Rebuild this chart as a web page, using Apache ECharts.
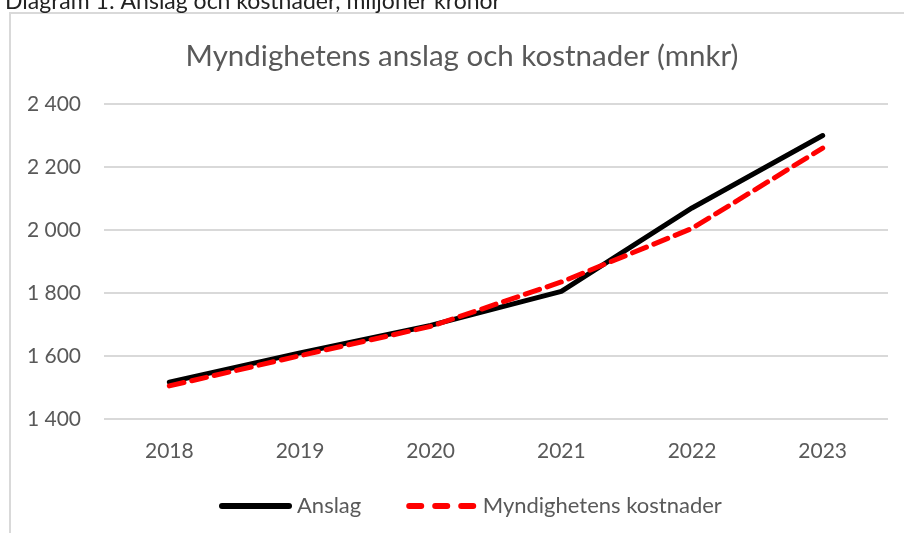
<!DOCTYPE html>
<html>
<head>
<meta charset="utf-8">
<script src="https://cdn.jsdelivr.net/npm/echarts@6/dist/echarts.min.js"></script>
<style>
  html, body { margin: 0; padding: 0; background: #fff; }
  #chart { width: 904px; height: 533px; }
</style>
</head>
<body>
<div id="chart"></div>
<script>
    // data (mnkr)
    var years = ['2018', '2019', '2020', '2021', '2022', '2023'];
    var anslag = [1517, 1610, 1697, 1805, 2070, 2300];
    var kostnader = [1505, 1601, 1694, 1835, 2005, 2260];

    var FONT = 'Lato, "Open Sans", sans-serif';
    var GREY = '#595959';

    var chart = echarts.init(document.getElementById('chart'));

    function fmt(v) {
        // swedish thousands separator
        return String(v).replace(/\B(?=(\d{3})+(?!\d))/g, ' ');
    }

    chart.setOption({
        backgroundColor: '#fff',
        animation: false,
        graphic: [
            {
                type: 'rect',
                shape: { x: 10, y: 13, width: 1000, height: 600 },
                style: { fill: 'none', stroke: '#d9d9d9', lineWidth: 2 },
                silent: true
            },
            {
                type: 'text',
                x: 5,
                y: 13,
                style: { text: 'Diagram 1: Anslag och kostnader, miljoner kronor', fontFamily: FONT, fontSize: 23, fill: '#222', verticalAlign: 'bottom' },
                silent: true
            },
            {
                type: 'text',
                x: 462,
                y: 56,
                style: { text: 'Myndighetens anslag och kostnader (mnkr)', fontFamily: FONT, fontSize: 29.5, fill: GREY, align: 'center', verticalAlign: 'middle' },
                silent: true
            }
        ],
        grid: { left: 104, right: 16, top: 104, bottom: 114, containLabel: false },
        legend: {
            left: 214,
            top: 490,
            itemWidth: 73,
            itemHeight: 6,
            itemGap: 45,
            textStyle: { fontFamily: FONT, fontSize: 22, color: GREY },
            data: [
                { name: 'Anslag', icon: 'path://M3,0H70A3,3,0,0,1,70,6H3A3,3,0,0,1,3,0Z' },
                { name: 'Myndighetens kostnader', icon: 'path://M3,0H15A3,3,0,0,1,15,6H3A3,3,0,0,1,3,0Z M29,0H41A3,3,0,0,1,41,6H29A3,3,0,0,1,29,0Z M55,0H67A3,3,0,0,1,67,6H55A3,3,0,0,1,55,0Z' }
            ]
        },
        xAxis: {
            type: 'category',
            data: years,
            boundaryGap: true,
            axisLine: { show: false },
            axisTick: { show: false },
            axisLabel: { fontFamily: FONT, fontSize: 21, color: GREY, margin: 22 }
        },
        yAxis: {
            type: 'value',
            min: 1400,
            max: 2400,
            interval: 200,
            axisLine: { show: false },
            axisTick: { show: false },
            splitLine: { lineStyle: { color: '#d9d9d9', width: 2 } },
            axisLabel: { fontFamily: FONT, fontSize: 21, color: GREY, margin: 23, formatter: fmt }
        },
        series: [
            {
                name: 'Anslag',
                type: 'line',
                data: anslag,
                symbol: 'none',
                color: '#000',
                lineStyle: { color: '#000', width: 5, cap: 'round' }
            },
            {
                name: 'Myndighetens kostnader',
                type: 'line',
                data: kostnader,
                symbol: 'none',
                color: '#ff0000',
                lineStyle: { color: '#ff0000', width: 5, type: [15, 8], cap: 'round' }
            }
        ]
    });
</script>
</body>
</html>
